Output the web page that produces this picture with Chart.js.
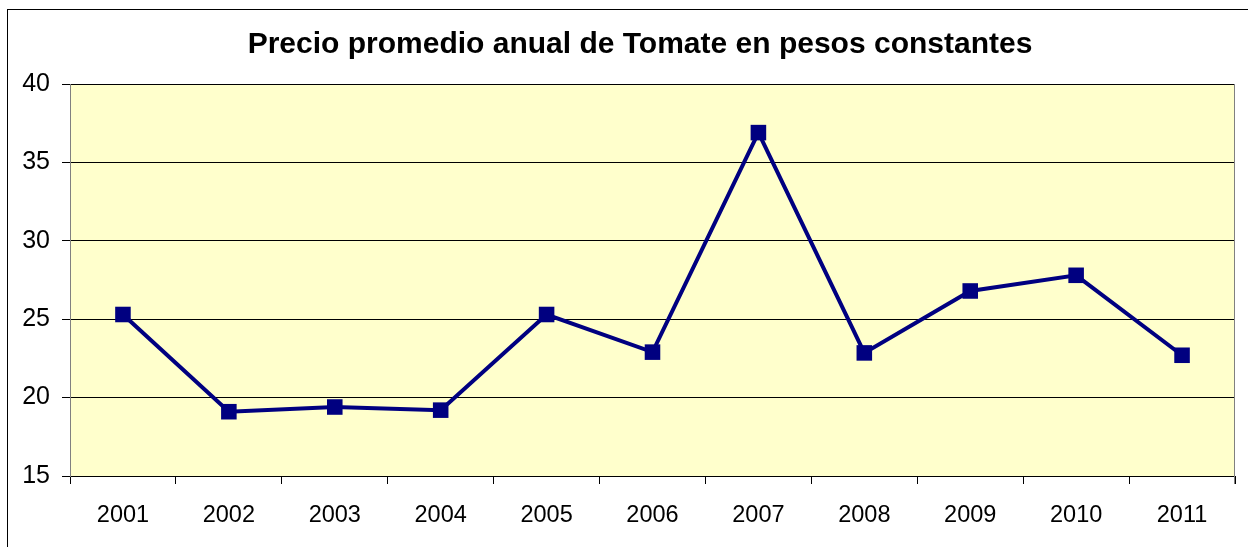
<!DOCTYPE html>
<html><head><meta charset="utf-8">
<script src="https://cdn.jsdelivr.net/npm/chart.js@4.4.0/dist/chart.umd.min.js"></script>
<style>html,body{margin:0;padding:0;background:#fff;}#wrap{width:1248px;height:547px;}</style>
</head><body><div id="wrap"><canvas id="c" width="1248" height="547"></canvas></div>
<script>
const chartTitle = "Precio promedio anual de Tomate en pesos constantes";
const years = ["2001","2002","2003","2004","2005","2006","2007","2008","2009","2010","2011"];
const prices = [25.3, 19.1, 19.4, 19.2, 25.3, 22.9, 36.9, 22.85, 26.8, 27.8, 22.7];
const yTicks = [15, 20, 25, 30, 35, 40];

const FONT = "'Liberation Sans', Arial, sans-serif";

const framePlugin = {
  id: 'frame',
  beforeDraw(chart) {
    const ctx = chart.ctx, a = chart.chartArea;
    ctx.save();
    ctx.fillStyle = '#fff';
    ctx.fillRect(0, 0, chart.width, chart.height);
    ctx.strokeStyle = '#000';
    ctx.lineWidth = 1;
    ctx.strokeRect(7.5, 9.5, 1300, 600);
    ctx.fillStyle = '#FFFFCC';
    ctx.fillRect(a.left, a.top, a.right - a.left, a.bottom - a.top);
    ctx.restore();
  },
  afterDraw(chart) {
    const ctx = chart.ctx;
    ctx.save();
    ctx.fillStyle = '#000';
    ctx.font = "bold 30px " + FONT;
    ctx.textAlign = 'center';
    ctx.textBaseline = 'alphabetic';
    ctx.fillText(chartTitle, 640, 53);
    ctx.restore();
  },
  beforeDatasetsDraw(chart) {
    const ctx = chart.ctx, a = chart.chartArea;
    ctx.save();
    ctx.strokeStyle = '#808080';
    ctx.lineWidth = 1;
    ctx.beginPath();
    ctx.moveTo(Math.round(a.right) - 0.5, a.top);
    ctx.lineTo(Math.round(a.right) - 0.5, a.bottom + 8);
    ctx.stroke();
    ctx.restore();
  }
};

new Chart(document.getElementById('c'), {
  type: 'line',
  data: {
    labels: years,
    datasets: [{
      data: prices,
      borderColor: '#000080',
      backgroundColor: '#000080',
      borderWidth: 4,
      pointStyle: 'rect',
      pointRadius: 11,
      pointBorderWidth: 0,
      pointBackgroundColor: '#000080',
      tension: 0,
      fill: false
    }]
  },
  options: {
    responsive: false,
    animation: false,
    devicePixelRatio: 1,
    layout: { padding: { left: 0, right: 13, top: 84, bottom: 0 } },
    plugins: { legend: { display: false }, title: { display: false }, tooltip: { enabled: false } },
    scales: {
      x: {
        offset: true,
        afterFit(s) { s.height = 71; },
        grid: { offset: true, drawOnChartArea: false, drawTicks: true, tickLength: 8, color: '#000', lineWidth: 1 },
        border: { display: true, color: '#000', width: 1 },
        ticks: { color: '#000', font: { family: FONT, size: 23.5 }, padding: 17, maxRotation: 0, autoSkip: false }
      },
      y: {
        min: 15, max: 40,
        afterFit(s) { s.width = 70; },
        afterBuildTicks(s) { s.ticks = yTicks.map(v => ({ value: v })); },
        grid: { color: '#000', lineWidth: 1, tickLength: 8, drawTicks: true },
        border: { display: true, color: '#808080', width: 1 },
        ticks: { color: '#000', font: { family: FONT, size: 25 }, padding: 12 }
      }
    }
  },
  plugins: [framePlugin]
});
</script>
</body></html>
